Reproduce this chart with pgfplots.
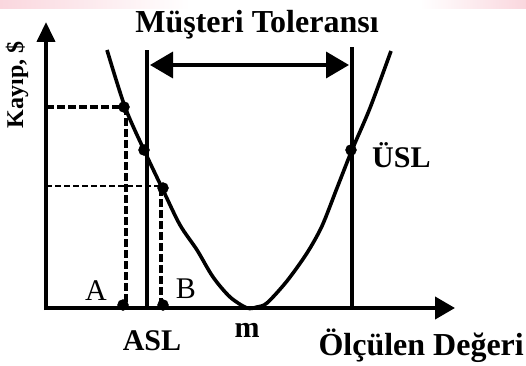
\documentclass[border=0pt]{standalone}
\usepackage{pgfplots}
\pgfplotsset{compat=1.18}
\usepackage{fontspec}
\setmainfont{Liberation Serif}
\usetikzlibrary{arrows.meta}
\begin{document}
\begin{tikzpicture}
\begin{axis}[
  x=1bp, y=1bp, xmin=0, xmax=526, ymin=0, ymax=363,
  hide axis, clip=false, scale only axis,
]
% faint pink band at the top
\path[left color={rgb,255:red,250;green,215;blue,222}, right color=white] (axis cs:0,354) rectangle (axis cs:190,363);
\path[left color=white, right color={rgb,255:red,250;green,215;blue,222}] (axis cs:420,354) rectangle (axis cs:526,363);
\path (axis cs:0,0) rectangle (axis cs:526,363);
% loss curve
\addplot[black, line width=3.6bp, smooth, tension=0.5] coordinates {
 (107,313) (125,256) (144,213) (163,173) (180,138) (197,113) (213,86) (230,66) (247,55)
 (257,56) (267,60) (287,82) (307,110) (322,137) (337,175) (352,213) (370,255) (391,312)
};
% axes with arrows
\addplot[black, line width=4bp, -{Triangle[length=20bp,width=18bp]}] coordinates {(46,53) (46,341)};
\addplot[black, line width=4bp, -{Triangle[length=20bp,width=22bp]}] coordinates {(44,55) (455,55)};
% spec limits
\addplot[black, line width=3.6bp] coordinates {(147,55) (147,313)};
\addplot[black, line width=3.6bp] coordinates {(352,55) (352,316)};
% tolerance arrow
\addplot[black, line width=3.6bp, {Triangle[length=23bp,width=26bp]}-{Triangle[length=23bp,width=26bp]}] coordinates {(150,298) (349,298)};
% dashed guides
\addplot[black, line width=3.2bp, dash pattern=on 8bp off 3bp] coordinates {(46,256) (124,256)};
\addplot[black, line width=3.2bp, dash pattern=on 8bp off 3bp] coordinates {(126,256) (126,55)};
\addplot[black, line width=2.6bp, dash pattern=on 6bp off 3bp] coordinates {(46,177) (163,177)};
\addplot[black, line width=3.2bp, dash pattern=on 8bp off 3bp] coordinates {(161,175) (161,55)};
% points
\addplot[only marks, mark=*, mark size=5.5bp, black] coordinates {
 (124,256) (144,213) (163,175) (351,213) (123,58) (163,58)
};
% labels
\node[font=\bfseries\fontsize{32bp}{34bp}\selectfont, anchor=base] at (axis cs:257,330) {Müşteri Toleransı};
\node[font=\bfseries\fontsize{24bp}{26bp}\selectfont, rotate=90, anchor=base] at (axis cs:23,278) {Kayıp, \$};
\node[font=\fontsize{30bp}{32bp}\selectfont, anchor=base] at (axis cs:96,63) {A};
\node[font=\fontsize{30bp}{32bp}\selectfont, anchor=base] at (axis cs:186,65) {B};
\node[font=\bfseries\fontsize{30bp}{32bp}\selectfont, anchor=base] at (axis cs:152,13) {ASL};
\node[font=\bfseries\fontsize{30bp}{32bp}\selectfont, anchor=base] at (axis cs:247,26) {m};
\node[font=\bfseries\fontsize{30bp}{32bp}\selectfont, anchor=base west, inner xsep=0pt] at (axis cs:372,196) {ÜSL};
\node[font=\bfseries\fontsize{32bp}{34bp}\selectfont, anchor=base east, inner xsep=0pt] at (axis cs:524,8) {Ölçülen Değeri};
\end{axis}
\end{tikzpicture}
\end{document}
